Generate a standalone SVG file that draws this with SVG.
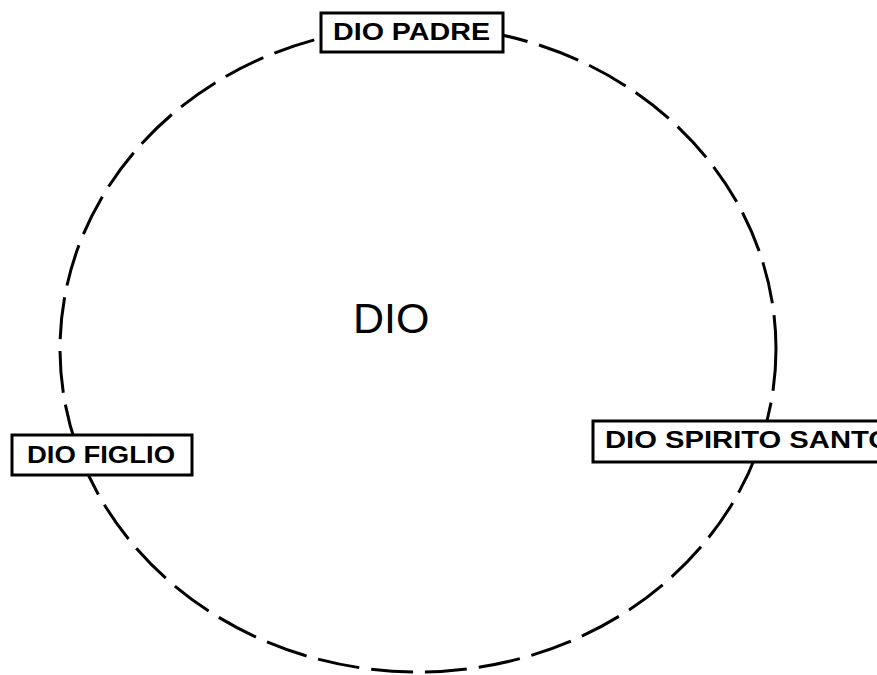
<svg xmlns="http://www.w3.org/2000/svg" width="877" height="675" viewBox="0 0 877 675">
<style>
.box{fill:#fff;stroke:#000;stroke-width:3}
.lbl{font-family:"Liberation Sans",Arial,sans-serif;font-weight:bold;font-size:24px;fill:#000}
.main{font-family:"Liberation Sans",Arial,sans-serif;font-size:43px;fill:#000}
</style>
<rect width="877" height="675" fill="#fff"/>
<g id="connectors">
<ellipse cx="418" cy="349" rx="358" ry="323" fill="none" stroke="#000" stroke-width="3" stroke-dasharray="42 12"/>
</g>
<g id="dio">
<text class="main" x="353" y="333">DIO</text>
</g>
<g id="padre">
<rect class="box" x="321" y="13" width="182" height="39"/>
<text class="lbl" x="333" y="40" textLength="157" lengthAdjust="spacingAndGlyphs">DIO PADRE</text>
</g>
<g id="figlio">
<rect class="box" x="12" y="435" width="180" height="40"/>
<text class="lbl" x="27" y="463" textLength="148" lengthAdjust="spacingAndGlyphs">DIO FIGLIO</text>
</g>
<g id="spirito">
<rect class="box" x="593" y="421" width="300" height="41"/>
<text class="lbl" x="605" y="448" textLength="286" lengthAdjust="spacingAndGlyphs">DIO SPIRITO SANTO</text>
</g>
</svg>
